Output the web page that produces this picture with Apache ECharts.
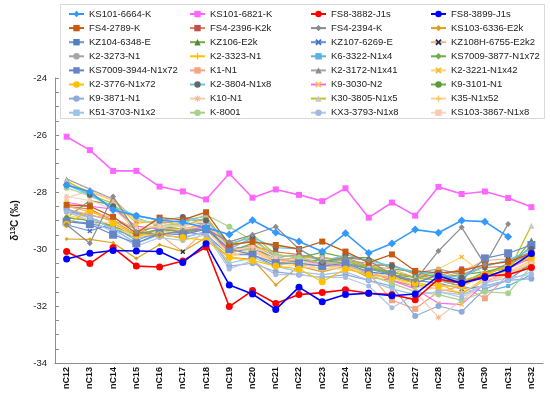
<!DOCTYPE html>
<html><head><meta charset="utf-8">
<script src="https://cdn.jsdelivr.net/npm/echarts@6/dist/echarts.min.js"></script>
<style>html,body{margin:0;padding:0;background:#fff}#c{width:550px;height:395px}</style>
</head><body><div id="c"></div>
<script>
const categories = ['nC12','nC13','nC14','nC15','nC16','nC17','nC18','nC19','nC20','nC21','nC22','nC23','nC24','nC25','nC26','nC27','nC28','nC29','nC30','nC31','nC32'];
const yTickLabels = [-34,-32,-30,-28,-26,-24];

const KS101_6664_K = [-27.75,-27.99,-28.63,-28.83,-28.98,-29.06,-29.25,-29.49,-28.99,-29.42,-29.74,-30.09,-29.45,-30.14,-29.81,-29.32,-29.43,-29.0,-29.04,-29.57,null];
const KS101_6821_K = [-26.06,-26.53,-27.26,-27.26,-27.81,-27.98,-28.26,-27.35,-28.2,-27.91,-28.1,-28.32,-27.87,-28.9,-28.37,-28.83,-27.82,-28.07,-27.98,-28.21,-28.53];
const FS8_3882_J1s = [-30.09,-30.51,-29.95,-30.6,-30.63,-30.42,-29.93,-32.02,-31.46,-31.91,-31.6,-31.53,-31.43,-31.55,-31.6,-31.78,-31.05,-31.2,-30.95,-30.9,-30.65];
const FS8_3899_J1s = [-30.35,-30.15,-30.05,-30.07,-30.09,-30.47,-29.82,-31.26,-31.58,-32.12,-31.34,-31.85,-31.6,-31.55,-31.64,-31.58,-30.95,-31.2,-31.0,-30.7,-30.16];
const FS4_2789_K = [-28.45,-28.5,-28.87,-29.45,-28.9,-28.98,-28.71,-29.85,-29.75,-29.86,-30.0,-29.74,-30.09,-30.48,-30.19,-30.77,-30.84,-30.78,-30.55,-30.45,-30.15];
const FS4_2396_K2k = [-28.5,-28.6,-29.0,-29.5,-29.1,-29.0,-28.85,-30.0,-29.9,-30.1,-30.2,-30.35,-30.3,-30.6,-30.55,-30.9,-30.95,-30.7,-30.65,-30.6,-30.35];
const FS4_2394_K = [-29.15,-29.8,-28.16,-29.4,-29.5,-29.35,-29.3,-29.75,-29.5,-29.22,-30.0,-30.45,-30.3,-30.4,-30.9,-31.1,-30.07,-29.24,-30.55,-29.12,null];
const KS103_6336_E2k = [-29.65,-29.66,-29.78,-30.33,-29.85,-30.09,-29.6,-30.3,-30.35,-31.26,-30.6,-30.8,-30.6,-31.0,-31.1,-31.3,-31.4,-31.55,-31.1,-30.9,-30.5];
const KZ104_6348_E = [-29.0,-29.1,-29.3,-29.6,-29.4,-29.45,-29.3,-30.1,-30.0,-30.3,-30.4,-30.5,-30.5,-30.7,-30.9,-31.2,-30.9,-31.2,-30.9,-30.5,-30.2];
const KZ106_E2k = [-28.9,-28.3,-28.45,-29.4,-29.2,-29.3,-29.2,-30.0,-30.0,-30.4,-30.3,-30.12,-30.3,-30.3,-30.7,-30.8,-31.0,-30.9,-30.8,-30.7,-29.7];
const KZ107_6269_E = [-29.15,-29.37,-29.1,-29.6,-29.5,-29.4,-29.5,-30.2,-30.2,-30.6,-30.4,-30.6,-30.6,-30.8,-31.0,-31.1,-31.2,-31.4,-31.3,-31.1,-30.5];
const KZ108H_6755_E2k2 = [-28.5,-28.7,-28.9,-29.3,-29.5,-30.1,-29.3,-30.2,-30.1,-30.4,-30.3,-30.5,-30.4,-30.6,-30.7,-31.0,-31.0,-30.8,-30.4,-30.35,-30.2];
const K2_3273_N1 = [-28.7,-28.8,-29.0,-29.3,-29.2,-29.1,-29.1,-29.9,-29.7,-30.2,-30.3,-30.3,-30.4,-30.5,-30.6,-30.85,-30.7,-30.9,-30.6,-30.4,-30.1];
const K2_3323_N1 = [-27.65,-28.0,-28.3,-29.1,-29.0,-29.2,-29.0,-30.2,-29.8,-30.3,-30.6,-30.5,-30.5,-30.9,-31.0,-31.3,-31.2,-31.6,-31.0,-30.7,-30.2];
const K6_3322_N1x4 = [-28.6,-28.9,-29.2,-29.7,-29.4,-29.3,-29.3,-30.0,-29.9,-30.3,-30.5,-30.6,-30.5,-30.6,-30.8,-31.0,-31.1,-31.3,-31.5,-31.3,-30.9];
const KS7009_3877_N1x72 = [-28.9,-29.0,-29.2,-29.6,-29.3,-29.3,-29.2,-30.1,-29.8,-30.5,-30.4,-30.5,-30.6,-30.6,-30.9,-31.0,-31.1,-31.2,-30.8,-30.6,-29.9];
const KS7009_3944_N1x72 = [-29.04,-29.13,-29.5,-29.8,-29.45,-29.5,-29.3,-30.0,-30.2,-30.5,-30.5,-30.6,-30.5,-30.8,-30.9,-31.2,-30.9,-31.1,-30.33,-30.15,-29.86];
const K1_N1 = [-28.6,-28.8,-29.0,-29.5,-29.3,-29.3,-29.1,-30.0,-30.0,-30.4,-30.4,-30.5,-30.5,-30.85,-31.8,-32.1,-31.5,-31.3,-31.73,-30.9,-30.5];
const K2_3172_N1x41 = [-27.54,-27.9,-28.25,-29.0,-29.1,-29.0,-29.0,-30.0,-29.6,-30.3,-30.2,-30.4,-30.4,-30.7,-30.8,-31.0,-31.1,-31.3,-30.9,-30.6,-30.1];
const K2_3221_N1x42 = [-28.8,-29.0,-29.2,-29.6,-29.4,-29.3,-29.2,-30.3,-30.0,-30.5,-30.5,-30.6,-30.6,-30.8,-31.0,-31.2,-30.7,-30.28,-30.9,-30.8,-30.4];
const K2_3776_N1x72 = [-29.13,-28.63,-29.1,-29.49,-29.5,-29.6,-29.7,-30.3,-30.4,-30.6,-30.7,-31.15,-30.7,-30.9,-31.0,-31.2,-31.3,-31.3,-30.9,-30.6,-30.3];
const K2_3804_N1x8 = [-27.75,-28.1,-28.5,-28.83,-29.0,-28.88,-29.0,-29.8,-29.6,-29.95,-30.0,-30.47,-30.2,-30.4,-30.6,-30.8,-30.9,-31.0,-30.6,-30.4,-30.0];
const K9_3030_N2 = [-28.36,-28.5,-28.6,-29.2,-29.3,-29.4,-29.2,-30.1,-29.9,-30.3,-30.4,-30.5,-30.6,-30.8,-31.1,-31.4,-31.9,-31.95,-31.2,-30.7,-30.3];
const K9_3101_N1 = [-28.9,-29.0,-29.2,-29.5,-29.3,-29.4,-29.3,-30.0,-30.0,-30.3,-30.4,-30.4,-30.5,-30.7,-30.8,-31.0,-30.9,-31.2,-31.0,-30.8,-30.6];
const K9_3871_N1 = [-28.6,-28.9,-29.3,-29.8,-29.5,-29.6,-29.4,-30.6,-30.5,-30.8,-30.9,-31.0,-30.9,-31.1,-31.3,-32.35,-32.0,-32.2,-31.4,-31.1,-31.04];
const K10_N1 = [-28.2,-27.95,-28.3,-29.0,-29.1,-29.2,-29.0,-30.0,-30.0,-30.4,-30.5,-30.7,-30.7,-30.9,-31.2,-31.5,-32.4,-31.8,-31.2,-30.9,-30.5];
const K30_3805_N1x5 = [-27.6,-28.1,-28.4,-29.3,-29.2,-29.2,-28.9,-29.9,-29.49,-30.2,-30.3,-30.3,-30.4,-30.6,-30.8,-31.0,-31.1,-31.1,-30.9,-30.8,-29.18];
const K35_N1x52 = [-28.7,-29.0,-29.1,-29.6,-29.4,-29.5,-29.3,-30.2,-30.1,-30.5,-30.6,-30.7,-30.6,-30.9,-31.0,-31.3,-31.4,-31.5,-31.1,-30.9,-30.4];
const K51_3703_N1x2 = [-28.7,-28.9,-29.3,-29.8,-29.5,-29.6,-29.4,-30.5,-30.3,-30.6,-30.8,-30.9,-30.8,-31.1,-31.4,-31.6,-31.5,-31.6,-31.3,-31.1,-30.8];
const K_8001 = [-27.85,-28.14,-28.5,-28.9,-29.2,-29.1,-28.8,-29.22,-29.7,-30.2,-30.3,-30.5,-30.5,-30.9,-31.2,-31.5,-31.6,-31.8,-31.5,-31.55,-30.6];
const KX3_3793_N1x8 = [-28.7,-29.0,-29.4,-29.9,-29.6,-29.7,-29.5,-30.7,-30.4,-30.9,-30.9,-31.0,-31.0,-31.3,-32.06,-31.6,-31.5,-31.7,-31.2,-31.0,-30.9];
const KS103_3867_N1x8 = [-28.15,-28.3,-28.6,-29.3,-29.2,-29.2,-29.0,-30.1,-29.9,-30.3,-30.4,-30.6,-30.5,-30.8,-31.0,-31.2,-31.3,-31.3,-31.0,-30.8,-30.5];

const seriesNames = ['KS101-6664-K','KS101-6821-K','FS8-3882-J1s','FS8-3899-J1s','FS4-2789-K','FS4-2396-K2k','FS4-2394-K','KS103-6336-E2k','KZ104-6348-E','KZ106-E2k','KZ107-6269-E','KZ108H-6755-E2k2','K2-3273-N1','K2-3323-N1','K6-3322-N1x4','KS7009-3877-N1x72','KS7009-3944-N1x72','K1-N1','K2-3172-N1x41','K2-3221-N1x42','K2-3776-N1x72','K2-3804-N1x8','K9-3030-N2','K9-3101-N1','K9-3871-N1','K10-N1','K30-3805-N1x5','K35-N1x52','K51-3703-N1x2','K-8001','KX3-3793-N1x8','KS103-3867-N1x8'];
const seriesValues = [KS101_6664_K,KS101_6821_K,FS8_3882_J1s,FS8_3899_J1s,FS4_2789_K,FS4_2396_K2k,FS4_2394_K,KS103_6336_E2k,KZ104_6348_E,KZ106_E2k,KZ107_6269_E,KZ108H_6755_E2k2,K2_3273_N1,K2_3323_N1,K6_3322_N1x4,KS7009_3877_N1x72,KS7009_3944_N1x72,K1_N1,K2_3172_N1x41,K2_3221_N1x42,K2_3776_N1x72,K2_3804_N1x8,K9_3030_N2,K9_3101_N1,K9_3871_N1,K10_N1,K30_3805_N1x5,K35_N1x52,K51_3703_N1x2,K_8001,KX3_3793_N1x8,KS103_3867_N1x8];

// styles
const XS = 'path://M2,0L5,3L8,0L10,2L7,5L10,8L8,10L5,7L2,10L0,8L3,5L0,2Z';
const PLUS = 'path://M4,0H6V4H10V6H6V10H4V6H0V4H4Z';
const ASTER = 'path://M4.3,0H5.7V3.3L8.1,0.9L9.1,1.9L6.7,4.3H10V5.7H6.7L9.1,8.1L8.1,9.1L5.7,6.7V10H4.3V6.7L1.9,9.1L0.9,8.1L3.3,5.7H0V4.3H3.3L0.9,1.9L1.9,0.9L4.3,3.3Z';
const DASH = 'path://M0,4H10V6H0Z';
// [lineColor, markerColor, symbol, size, lineWidth, z]
const styles = [
 ['#3399ff','#3399ff','diamond',8,1.6,9],
 ['#ff66ff','#ff66ff','rect',6,1.6,9],
 ['#ff0000','#ff0000','circle',7,1.6,8],
 ['#0000ff','#0000ff','circle',7,1.6,8],
 ['#c55a11','#c55a11','rect',6,1.3,5],
 ['#e0824a','#c0504d',DASH,5,1.2,3],
 ['#8c8c8c','#8c8c8c','diamond',6,1.2,5],
 ['#d9a21b','#d9a21b','diamond',4,1.2,3],
 ['#6f97cc','#4f7fbf','rect',5,1.2,3],
 ['#70ad47','#4e8a2e','triangle',6,1.2,3],
 ['#6b8fd6','#4472c4',XS,5,1.2,3],
 ['#f4b183','#1f2f5c',XS,5,1.2,3],
 ['#a5a5a5','#a5a5a5','circle',5,1.2,3],
 ['#ffc000','#ffc000',PLUS,5,1.2,3],
 ['#5ab1e6','#5ab1e6',DASH,4,1.2,3],
 ['#70ad47','#70ad47','diamond',4,1.2,3],
 ['#6685c9','#6685c9','rect',8,1.2,4],
 ['#f4a582','#f4a582','rect',6,1.2,3],
 ['#a5a5a5','#8c8c8c','triangle',5,1.2,3],
 ['#ffd966','#f5b941',XS,5,1.2,3],
 ['#ffc000','#ffc000','circle',7,1.2,4],
 ['#5bc8ef','#666666','circle',6,1.2,4],
 ['#ff66ff','#f2c94c',XS,5,1.2,3],
 ['#70ad47','#5a9a3a','circle',5,1.2,3],
 ['#8faadc','#8faadc','circle',6,1.2,3],
 ['#f8cbad','#f8b58c',ASTER,6,1.2,3],
 ['#c2c21a','#c8c8c8','triangle',6,1.2,3],
 ['#ffd393','#ffc060',PLUS,5,1.2,3],
 ['#9dc3e6','#9dc3e6','rect',4,1.2,3],
 ['#a9d18e','#a9d18e','circle',6,1.2,3],
 ['#b4c7e7','#a4b9e0','circle',5,1.2,3],
 ['#fbd5c5','#fbc9b5',DASH,4,1.2,3]
];

const series = seriesNames.map((n, i) => {
  const s = styles[i];
  return {
    name: n, type: 'line', data: seriesValues[i],
    symbol: s[2], symbolSize: s[3], z: s[5],
    lineStyle: {color: s[0], width: s[4]},
    itemStyle: {color: s[1]},
    emphasis: {disabled: true}, animation: false
  };
});

const legendCols = [63, 184, 305, 425];
const legends = legendCols.map((x, c) => ({
  orient: 'vertical', left: x, top: 4,
  itemWidth: 15, itemHeight: 8, itemGap: 4.1,
  textStyle: {fontFamily: 'Liberation Sans, Arial', fontSize: 9.5, lineHeight: 10, color: '#222'},
  data: seriesNames.filter((_, i) => i % 4 === c)
}));

const chart = echarts.init(document.getElementById('c'), null, {renderer: 'canvas'});
chart.setOption({
  backgroundColor: '#fff',
  animation: false,
  graphic: [{type: 'rect', left: 60, top: 4, z: -10, shape: {width: 484, height: 114}, style: {fill: '#fff', stroke: '#d9d9d9', lineWidth: 1}}],
  legend: legends,
  grid: {left: 55, right: 7, top: 78, bottom: 32, containLabel: false},
  xAxis: {
    type: 'category', data: categories, boundaryGap: true,
    axisLine: {lineStyle: {color: '#8c8c8c', width: 1}},
    axisTick: {inside: true, length: 3, lineStyle: {color: '#8c8c8c'}},
    axisLabel: {rotate: 90, fontFamily: 'Liberation Sans, Arial', fontSize: 9, fontWeight: 'bold', color: '#111', margin: 4, interval: 0}
  },
  yAxis: {
    type: 'value', min: -34, max: -24, interval: 0.5,
    name: '{a|δ}{s|13}{a|C (‰)}', nameLocation: 'middle', nameRotate: 90, nameGap: 34,
    nameTextStyle: {rich: {a: {fontFamily: 'Liberation Sans, Arial', fontSize: 10, fontWeight: 'bold', color: '#111'}, s: {fontFamily: 'Liberation Sans, Arial', fontSize: 7, fontWeight: 'bold', color: '#111', verticalAlign: 'top', padding: [0,0,4,0]}}},
    axisLine: {show: true, lineStyle: {color: '#8c8c8c', width: 1}},
    axisTick: {show: true, inside: true, length: 4, lineStyle: {color: '#8c8c8c'}},
    splitLine: {show: false},
    axisLabel: {fontFamily: 'Liberation Sans, Arial', fontSize: 9.5, color: '#222', margin: 8,
      formatter: v => (yTickLabels.indexOf(v) >= 0 ? String(v) : '')}
  },
  series: series
});
</script></body></html>
